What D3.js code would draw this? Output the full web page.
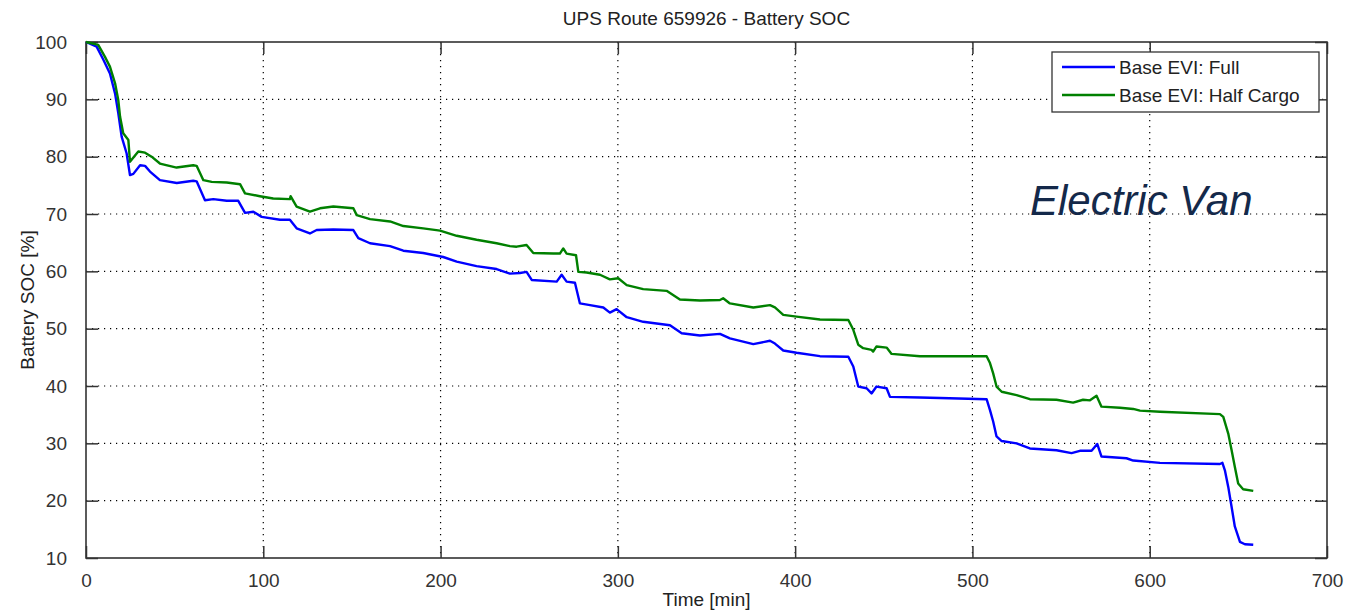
<!DOCTYPE html>
<html>
<head>
<meta charset="utf-8">
<script src="https://cdn.jsdelivr.net/npm/d3@7"></script>
<style>
  body { margin: 0; background: #fff; }
  text { font-family: Arial, "Liberation Sans", sans-serif; }
</style>
</head>
<body>
<div id="chart"></div>
<script>
// time [min] and battery SOC [%] per series
const fullTime = [0, 6, 9.8, 13.5, 16.4, 18.2, 20.1, 22.9, 24.8, 26.7, 30.5, 33.3, 36.1, 41.7, 51.2, 60.5, 62.4, 67.1, 71.8, 79.4, 85.9, 89.7, 94.4, 99.1, 109.4, 115, 118.8, 126.3, 130.1, 139.5, 150.8, 153.6, 160.2, 171.5, 179, 190.2, 201.5, 209.1, 220.3, 231.6, 239.1, 244.8, 248.5, 251.4, 265.5, 268.3, 271.1, 275.8, 278.6, 284.3, 291.8, 295.5, 299.3, 305, 314.3, 329.4, 336, 346.3, 357.6, 363.2, 376.4, 385.8, 388.6, 393.3, 400.8, 414, 430, 432.8, 435.6, 440.3, 443.1, 445.9, 451.6, 453.5, 470.4, 481.7, 508, 509.9, 511.7, 513.6, 516.5, 524.9, 532.4, 547.4, 555.9, 560.6, 567.2, 570.4, 572.8, 586.9, 590.7, 605.8, 639.6, 641, 642.4, 644.3, 646.2, 648, 650.9, 653.7, 658.4];
const fullSoc = [100, 99.2, 96.9, 94.5, 91, 87.6, 83.5, 80.6, 76.8, 77, 78.5, 78.4, 77.4, 75.9, 75.4, 75.8, 75.7, 72.4, 72.6, 72.3, 72.3, 70.2, 70.4, 69.5, 69, 69, 67.5, 66.6, 67.2, 67.3, 67.2, 65.8, 64.9, 64.4, 63.6, 63.2, 62.5, 61.7, 60.9, 60.4, 59.6, 59.7, 59.9, 58.5, 58.2, 59.4, 58.2, 58, 54.4, 54.1, 53.7, 52.8, 53.4, 52, 51.2, 50.6, 49.2, 48.8, 49.1, 48.3, 47.3, 47.9, 47.4, 46.2, 45.8, 45.2, 45.1, 43.4, 39.9, 39.6, 38.7, 39.9, 39.6, 38.1, 38, 37.9, 37.7, 35.8, 33.8, 31.2, 30.4, 30, 29.1, 28.8, 28.3, 28.7, 28.7, 29.9, 27.7, 27.4, 27, 26.6, 26.4, 26.6, 25.3, 22.4, 18.9, 15.5, 12.8, 12.4, 12.3];

const halfTime = [0, 6.9, 10.7, 13.5, 16.4, 18.2, 19.2, 21, 23.9, 24.8, 29.5, 33.3, 37, 41.7, 51.1, 60.5, 62.4, 66.2, 70.9, 79.4, 86.9, 89.7, 98.1, 105.6, 115, 115.4, 118.8, 126.3, 132, 139.5, 150.8, 152.7, 160.2, 171.5, 179, 190.2, 199.7, 209.1, 220.3, 231.6, 239.1, 242.9, 248.5, 252.3, 263.6, 267.3, 269.2, 271.1, 276.4, 277.7, 282.4, 289.9, 295.5, 300.2, 305, 314.3, 327.5, 335, 346.3, 357.6, 359.4, 363.2, 376.4, 385.8, 388.6, 393.3, 400.8, 414, 430, 432.8, 435.6, 438.4, 443.1, 444, 445.9, 451.6, 454.4, 470.4, 481.7, 508, 509.9, 511.7, 513.6, 516.5, 524.9, 532.4, 547.4, 556.8, 562.4, 566.3, 570, 572.8, 583.2, 590.7, 594.5, 605.8, 639.6, 641.5, 644.3, 646.2, 648, 649.9, 652.7, 658.4];
const halfSoc = [100, 99.5, 97.4, 95.7, 92.8, 89.9, 87, 84.1, 82.9, 79.1, 80.9, 80.7, 80, 78.8, 78.1, 78.5, 78.4, 75.9, 75.6, 75.5, 75.2, 73.6, 73.1, 72.7, 72.6, 73.1, 71.3, 70.4, 71, 71.3, 71, 69.8, 69.1, 68.7, 67.9, 67.5, 67.1, 66.2, 65.5, 64.9, 64.4, 64.3, 64.6, 63.2, 63.1, 63.1, 64, 63.1, 62.8, 59.9, 59.8, 59.4, 58.6, 58.8, 57.6, 56.9, 56.6, 55.1, 54.9, 55, 55.3, 54.4, 53.7, 54.1, 53.7, 52.4, 52.1, 51.6, 51.5, 49.8, 47.2, 46.6, 46.3, 46, 46.9, 46.7, 45.6, 45.2, 45.2, 45.2, 44, 42.2, 39.9, 39, 38.4, 37.7, 37.6, 37.1, 37.6, 37.5, 38.3, 36.4, 36.2, 36, 35.7, 35.5, 35.1, 34.6, 31.7, 28.8, 25.9, 23, 22, 21.7];

const seriesNames = ["Base EVI: Full", "Base EVI: Half Cargo"];
const seriesColors = ["#0000ff", "#008000"];
const xTicks = [0, 100, 200, 300, 400, 500, 600, 700];
const yTicks = [10, 20, 30, 40, 50, 60, 70, 80, 90, 100];

const W = 1345, H = 612;
const margin = {top: 42, right: 18, bottom: 54, left: 86};
const width = W - margin.left - margin.right;
const height = H - margin.top - margin.bottom;

const svg = d3.select("#chart").append("svg")
    .attr("width", W).attr("height", H);
const g = svg.append("g").attr("transform", `translate(${margin.left},${margin.top})`);

const x = d3.scaleLinear().domain([0, 700]).range([0, width]);
const y = d3.scaleLinear().domain([10, 100]).range([height, 0]);

// dotted grid
g.append("g").selectAll("line").data(xTicks.slice(1, -1)).enter().append("line")
    .attr("x1", d => x(d)).attr("x2", d => x(d)).attr("y1", 0).attr("y2", height)
    .attr("stroke", "#000").attr("stroke-width", 1.2).attr("stroke-dasharray", "1.2,4.8");
g.append("g").selectAll("line").data(yTicks.slice(1, -1)).enter().append("line")
    .attr("y1", d => y(d)).attr("y2", d => y(d)).attr("x1", 0).attr("x2", width)
    .attr("stroke", "#000").attr("stroke-width", 1.2).attr("stroke-dasharray", "1.2,4.8");

// axes, ticks pointing inwards on all four sides
const axStyle = sel => {
    sel.select(".domain").remove();
    sel.selectAll("line").attr("stroke", "#333").attr("stroke-width", 1.5);
    sel.selectAll("text").attr("fill", "#333").style("font-size", "19px");
};
g.append("g").attr("transform", `translate(0,${height})`)
    .call(d3.axisBottom(x).tickValues(xTicks).tickSizeInner(-12).tickPadding(16).tickFormat(d3.format("d")))
    .call(axStyle);
g.append("g")
    .call(d3.axisLeft(y).tickValues(yTicks).tickSizeInner(-12).tickPadding(19).tickFormat(d3.format("d")))
    .call(axStyle);
g.append("g")
    .call(d3.axisTop(x).tickValues(xTicks).tickSizeInner(-12).tickFormat(""))
    .call(axStyle);
g.append("g").attr("transform", `translate(${width},0)`)
    .call(d3.axisRight(y).tickValues(yTicks).tickSizeInner(-12).tickFormat(""))
    .call(axStyle);

g.append("rect").attr("width", width).attr("height", height)
    .attr("fill", "none").attr("stroke", "#333").attr("stroke-width", 1.6);

// series, green drawn last so it sits on top where they overlap at the start
const line = d3.line().x(d => x(d[0])).y(d => y(d[1]));
const series = [d3.zip(fullTime, fullSoc), d3.zip(halfTime, halfSoc)];
series.forEach((s, i) => {
    g.append("path").datum(s)
        .attr("d", line)
        .attr("fill", "none")
        .attr("stroke", seriesColors[i])
        .attr("stroke-width", 2.4)
        .attr("stroke-linejoin", "round");
});

// title and labels
svg.append("text").attr("x", margin.left + width / 2).attr("y", 25)
    .attr("text-anchor", "middle").attr("fill", "#222").style("font-size", "19px")
    .text("UPS Route 659926 - Battery SOC");
svg.append("text").attr("x", margin.left + width / 2).attr("y", 606)
    .attr("text-anchor", "middle").attr("fill", "#222").style("font-size", "19px")
    .text("Time [min]");
svg.append("text").attr("transform", `translate(34,${margin.top + height / 2})rotate(-90)`)
    .attr("text-anchor", "middle").attr("fill", "#222").style("font-size", "19px")
    .text("Battery SOC [%]");

// legend
const leg = svg.append("g").attr("transform", "translate(1052,52)");
leg.append("rect").attr("width", 267).attr("height", 60)
    .attr("fill", "#fff").attr("stroke", "#333").attr("stroke-width", 1.3);
seriesNames.forEach((name, i) => {
    const ly = 15 + i * 28;
    leg.append("line").attr("x1", 10).attr("x2", 63).attr("y1", ly).attr("y2", ly)
        .attr("stroke", seriesColors[i]).attr("stroke-width", 2.3);
    leg.append("text").attr("x", 67).attr("y", ly + 7)
        .attr("fill", "#222").style("font-size", "19px").text(name);
});

// annotation
svg.append("text").attr("x", 1030).attr("y", 215)
    .attr("fill", "#14294a").style("font-size", "42px").style("font-style", "italic")
    .text("Electric Van");
</script>
</body>
</html>
